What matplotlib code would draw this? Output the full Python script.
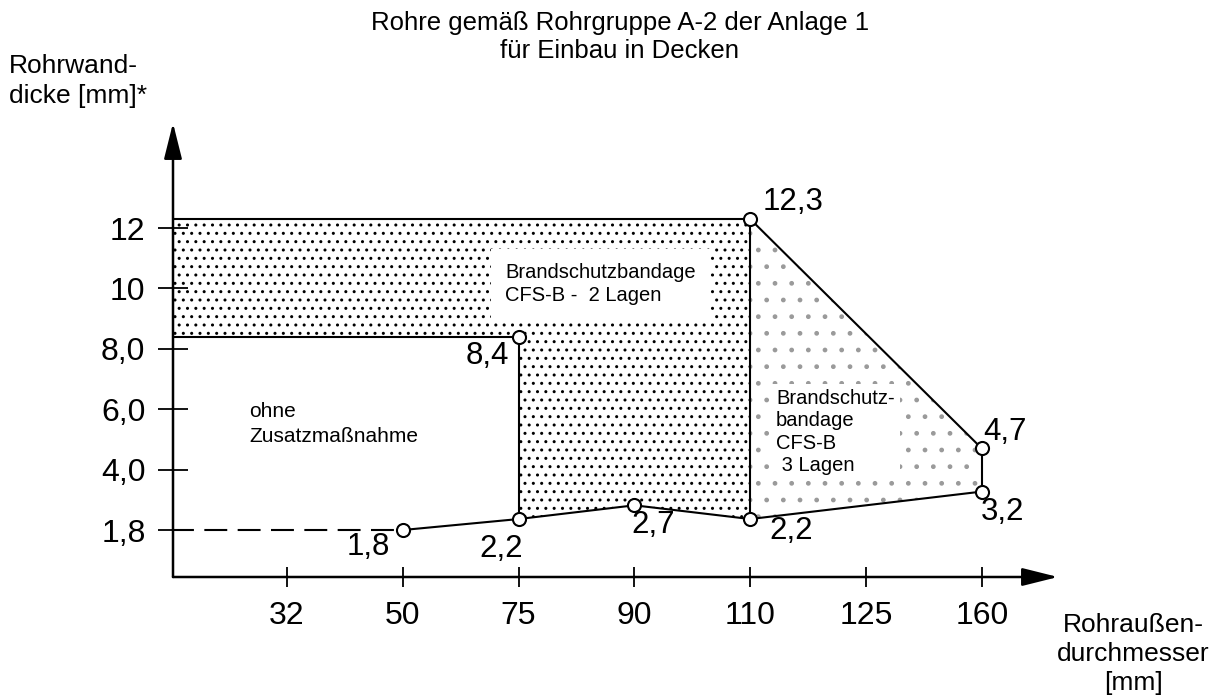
import numpy as np
import matplotlib
matplotlib.use("Agg")
import matplotlib.pyplot as plt

plt.rcParams['font.family'] = ['Liberation Sans', 'DejaVu Sans']
plt.rcParams['hatch.linewidth'] = 1.0

# ---------------- data ----------------
x_ticks = [32, 50, 75, 90, 110, 125, 160]
x_tick_labels = ['32', '50', '75', '90', '110', '125', '160']
y_ticks = [1.8, 4, 6, 8, 10, 12]
y_tick_labels = ['1,8', '4,0', '6,0', '8,0', '10', '12']

d_lower = [50, 75, 90, 110, 160]          # Rohraußendurchmesser [mm]
s_lower = [1.8, 2.2, 2.7, 2.2, 3.2]       # minimale Rohrwanddicke [mm]
lower_labels = ['1,8', '2,2', '2,7', '2,2', '3,2']

d_upper = [75, 110, 160]                  # Grenzpunkte oben
s_upper = [8.4, 12.3, 4.7]
upper_labels = ['8,4', '12,3', '4,7']

# schematic axis breakpoints (equal spacing of the listed values)
XB = np.array([0, 32, 50, 75, 90, 110, 125, 160, 195], dtype=float)
YB = np.array([0, 1.8, 4, 6, 8, 10, 12, 14, 16], dtype=float)
P = np.arange(len(XB), dtype=float)

def fx(v):
    return np.interp(v, XB, P)

def ix(p):
    return np.interp(p, P, XB)

def fy(v):
    return np.interp(v, YB, P)

def iy(p):
    return np.interp(p, P, YB)

# ---------------- figure ----------------
W, H = 1211, 695
fig = plt.figure(figsize=(W / 100, H / 100), dpi=100)
ax_l, ax_r, ax_b, ax_t = 173, 1058, 577, 123
ax = fig.add_axes([ax_l / W, 1 - ax_b / H, (ax_r - ax_l) / W, (ax_b - ax_t) / H])
ax.set_xscale('function', functions=(fx, ix))
ax.set_yscale('function', functions=(fy, iy))
ax.set_xlim(ix(0.0155), ix(7.658))
ax.set_ylim(iy(0.222), iy(7.74))

for s in ax.spines.values():
    s.set_visible(False)

lw = 1.5
x_left = XB[0]

# filled regions
dense_x = [x_left, d_upper[1], d_upper[1], d_lower[2], d_lower[1], d_upper[0], x_left]
dense_y = [s_upper[1], s_upper[1], s_lower[3], s_lower[2], s_lower[1], s_upper[0], s_upper[0]]
ax.fill(dense_x, dense_y, facecolor='white', edgecolor='black', hatch='..', linewidth=0, zorder=1)
sparse_x = [d_upper[1], d_upper[2], d_lower[4], d_lower[3]]
sparse_y = [s_upper[1], s_upper[2], s_lower[4], s_lower[3]]
ax.fill(sparse_x, sparse_y, facecolor='white', edgecolor='#9a9a9a', hatch='.', linewidth=0, zorder=1)

# boundary lines
ax.plot([x_left, d_lower[0]], [s_lower[0], s_lower[0]], color='black', lw=lw, dashes=(11, 5), zorder=3)
ax.plot(d_lower, s_lower, color='black', lw=lw, zorder=3)
ax.plot([x_left, d_upper[1]], [s_upper[1], s_upper[1]], color='black', lw=lw, zorder=3)
ax.plot([x_left, d_upper[0]], [s_upper[0], s_upper[0]], color='black', lw=lw, zorder=3)
ax.plot([d_upper[0], d_upper[0]], [s_upper[0], s_lower[1]], color='black', lw=lw, zorder=3)
ax.plot([d_upper[1], d_upper[1]], [s_upper[1], s_lower[3]], color='black', lw=lw, zorder=3)
ax.plot([d_upper[1], d_upper[2]], [s_upper[1], s_upper[2]], color='black', lw=lw, zorder=3)
ax.plot([d_upper[2], d_lower[4]], [s_upper[2], s_lower[4]], color='black', lw=lw, zorder=3)

# circle markers
ax.plot(d_lower + d_upper, s_lower + s_upper, ls='none', marker='o', ms=9.4,
        mfc='white', mec='black', mew=1.5, zorder=4)

# value labels (offsets in pixels)
lower_off = [(-34, -17), (-17, -30), (19, -20), (41, -12), (21, -20)]
upper_off = [(-31, -19), (43, 17), (23, 16)]
for d, s, t, o in zip(d_lower + d_upper, s_lower + s_upper,
                      lower_labels + upper_labels, lower_off + upper_off):
    ax.annotate(t, (d, s), xytext=o, textcoords='offset pixels',
                ha='center', va='center', fontsize=22.5, zorder=5)

# ticks
ax.set_xticks(x_ticks)
ax.set_xticklabels(x_tick_labels)
ax.set_yticks(y_ticks)
ax.set_yticklabels(y_tick_labels)
ax.minorticks_off()
ax.tick_params(axis='x', direction='inout', length=15, width=1.3, pad=10, labelsize=23)
ax.tick_params(axis='y', direction='inout', length=21.6, width=1.3, pad=9, labelsize=23)

# axis arrows
arrow = dict(arrowstyle='-|>,head_length=2.2,head_width=0.55', lw=1.8, color='black',
             shrinkA=0, shrinkB=0, mutation_scale=10)
ax.annotate('', xy=(1, 0), xytext=(0, 0), xycoords='axes fraction',
            textcoords='axes fraction', arrowprops=arrow, annotation_clip=False)
ax.annotate('', xy=(0, 1), xytext=(0, 0), xycoords='axes fraction',
            textcoords='axes fraction', arrowprops=arrow, annotation_clip=False)

# region texts
def ftext(x, y, s, **kw):
    fig.text(x / W, 1 - y / H, s, **kw)

ftext(505, 284, 'Brandschutzbandage\nCFS-B -  2 Lagen', ha='left', va='center',
      fontsize=14.5, linespacing=1.26, zorder=6,
      bbox=dict(boxstyle='square,pad=0.7', facecolor='white', edgecolor='none'))
ftext(249, 424, 'ohne\nZusatzmaßnahme', ha='left', va='center', fontsize=15, linespacing=1.45)
ftext(776, 432, 'Brandschutz-\nbandage\nCFS-B\n 3 Lagen', ha='left', va='center',
      fontsize=14.5, linespacing=1.23, zorder=6,
      bbox=dict(boxstyle='square,pad=0.25', facecolor='white', edgecolor='none'))

# titles and axis labels
ftext(620, 37, 'Rohre gemäß Rohrgruppe A-2 der Anlage 1\nfür Einbau in Decken',
      ha='center', va='center', fontsize=18.5, linespacing=1.16)
ftext(9, 81, 'Rohrwand-\ndicke [mm]*', ha='left', va='center', fontsize=19, linespacing=1.3)
ftext(1133, 654, 'Rohraußen-\ndurchmesser\n[mm]', ha='center', va='center',
      fontsize=19, linespacing=1.25)

fig.savefig('out.png', dpi=100)
